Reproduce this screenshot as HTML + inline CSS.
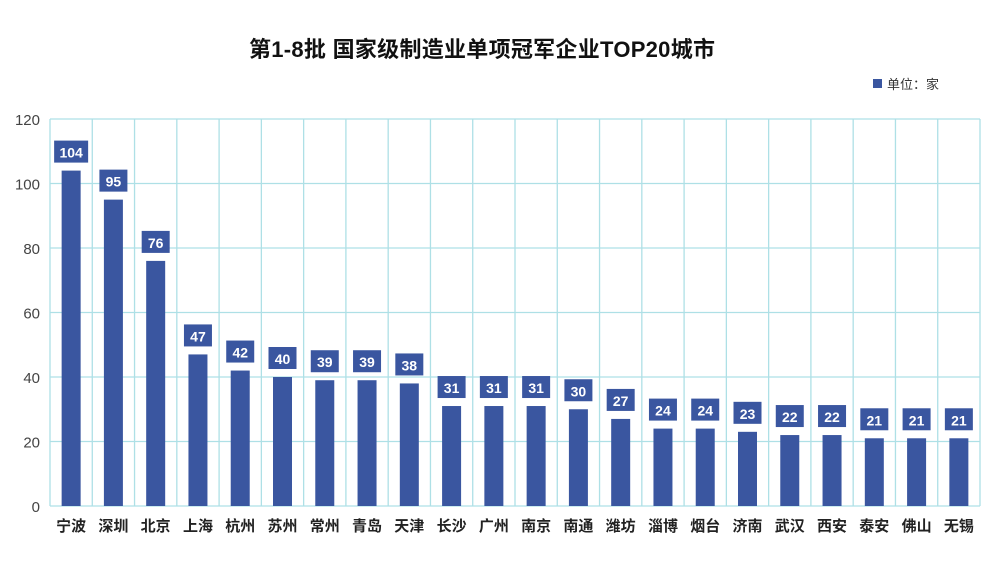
<!DOCTYPE html>
<html><head><meta charset="utf-8"><style>
body{margin:0;background:#fff;}
svg text{font-family:"Liberation Sans","Noto Sans CJK SC",sans-serif;}
</style></head><body>
<svg id="chart" width="1000" height="575">
<text x="482" y="57" text-anchor="middle" font-size="22" font-weight="bold" fill="#111" textLength="466">第1-8批 国家级制造业单项冠军企业TOP20城市</text>
<g>
<rect x="873" y="79" width="9" height="9" fill="#3a56a0"/>
<text x="887" y="89" font-size="13" fill="#333">单位：家</text>
</g>
<g id="grid"></g><g id="bars"></g><g id="axes"></g>
</svg>
<script>
const categories=["宁波","深圳","北京","上海","杭州","苏州","常州","青岛","天津","长沙","广州","南京","南通","潍坊","淄博","烟台","济南","武汉","西安","泰安","佛山","无锡"];
const values=[104,95,76,47,42,40,39,39,38,31,31,31,30,27,24,24,23,22,22,21,21,21];
const yTicks=[0,20,40,60,80,100,120];
const L=50,R=980,T=119,B=506,yMax=120;
const band=(R-L)/categories.length;
const x=i=>L+band*i;
const y=v=>B-(v/yMax)*(B-T);
const NS="http://www.w3.org/2000/svg";
function mk(tag,attrs,parent){const e=document.createElementNS(NS,tag);for(const k in attrs)e.setAttribute(k,attrs[k]);parent.appendChild(e);return e;}
const grid=document.getElementById('grid'),bars=document.getElementById('bars'),axes=document.getElementById('axes');
yTicks.forEach(t=>{
 const l=mk('line',{x1:L,x2:R,y1:y(t),y2:y(t),stroke:'#aee0e6','stroke-width':1.3},grid);
 
 
 const tx=mk('text',{x:40,y:y(t)+6,'text-anchor':'end','font-size':15,fill:'#444'},axes);
 tx.textContent=t;
 
 
});
for(let i=0;i<=categories.length;i++){
 const l=mk('line',{x1:x(i),x2:x(i),y1:T,y2:B,stroke:'#aee0e6','stroke-width':1.3},grid);
 
 
}
categories.forEach((c,i)=>{
 const cx=x(i)+band/2,v=values[i];
 const r=mk('rect',{x:cx-9.5,y:y(v),width:19,height:B-y(v),fill:'#3a56a0'},bars);
 
 
 const bw=v>=100?34:28;
 const b=mk('rect',{x:cx-bw/2,y:y(v)-30,width:bw,height:22,fill:'#3a56a0'},bars);
 
 
 const t=mk('text',{x:cx,y:y(v)-13,'text-anchor':'middle','font-size':14,'font-weight':'bold',fill:'#fff'},bars);
 t.textContent=v;
 
 
 const lab=mk('text',{x:cx,y:531,'text-anchor':'middle','font-size':15,'font-weight':'bold',fill:'#222'},axes);
 lab.textContent=c;
 
 
});
</script>
</body></html>
